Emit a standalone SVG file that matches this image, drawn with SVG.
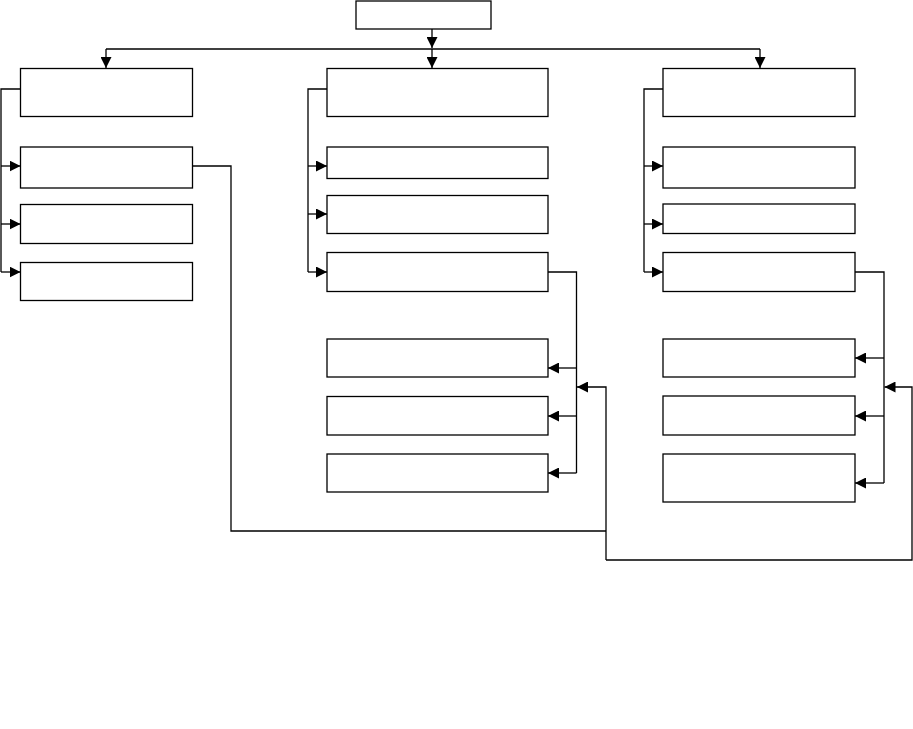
<svg xmlns="http://www.w3.org/2000/svg" width="913" height="729" viewBox="0 0 913 729">
<style>
.box{fill:#fff;stroke:#000;stroke-width:1.3}
.ln{fill:none;stroke:#000;stroke-width:1.3}
</style>
<defs>
<marker id="ah" markerUnits="userSpaceOnUse" markerWidth="11" markerHeight="11" refX="10" refY="5" orient="auto" viewBox="0 0 10 10">
<path d="M0,0 L10,5 L0,10 z" fill="#000"/>
</marker>
</defs>
<rect x="0" y="0" width="913" height="729" fill="#fff"/>
<g id="top"><rect class="box" x="356" y="1" width="135" height="28"/></g>
<g id="L1"><rect class="box" x="20.5" y="68.5" width="172" height="48"/></g>
<g id="L2"><rect class="box" x="20.5" y="147" width="172" height="41"/></g>
<g id="L3"><rect class="box" x="20.5" y="204.5" width="172" height="39"/></g>
<g id="L4"><rect class="box" x="20.5" y="262.5" width="172" height="38"/></g>
<g id="M1"><rect class="box" x="327" y="68.5" width="221" height="48"/></g>
<g id="M2"><rect class="box" x="327" y="147" width="221" height="31.5"/></g>
<g id="M3"><rect class="box" x="327" y="195.5" width="221" height="38"/></g>
<g id="M4"><rect class="box" x="327" y="252.5" width="221" height="39"/></g>
<g id="M5"><rect class="box" x="327" y="339" width="221" height="38"/></g>
<g id="M6"><rect class="box" x="327" y="396.5" width="221" height="38.5"/></g>
<g id="M7"><rect class="box" x="327" y="454" width="221" height="38"/></g>
<g id="R1"><rect class="box" x="663" y="68.5" width="192" height="48"/></g>
<g id="R2"><rect class="box" x="663" y="147" width="192" height="41"/></g>
<g id="R3"><rect class="box" x="663" y="204" width="192" height="29.5"/></g>
<g id="R4"><rect class="box" x="663" y="252.5" width="192" height="39"/></g>
<g id="R5"><rect class="box" x="663" y="339" width="192" height="38"/></g>
<g id="R6"><rect class="box" x="663" y="396" width="192" height="39"/></g>
<g id="R7"><rect class="box" x="663" y="454" width="192" height="48"/></g>
<g id="connectors">
<path class="ln" d="M432,29 V48" marker-end="url(#ah)"/>
<path class="ln" d="M106,49 H760"/>
<path class="ln" d="M432,49 V68" marker-end="url(#ah)"/>
<path class="ln" d="M106,49 V68" marker-end="url(#ah)"/>
<path class="ln" d="M760,49 V68" marker-end="url(#ah)"/>
<path class="ln" d="M20.5,89 H1 V272"/>
<path class="ln" d="M1,166 H20.5" marker-end="url(#ah)"/>
<path class="ln" d="M1,224 H20.5" marker-end="url(#ah)"/>
<path class="ln" d="M1,272 H20.5" marker-end="url(#ah)"/>
<path class="ln" d="M327,89 H308 V272"/>
<path class="ln" d="M308,166 H327" marker-end="url(#ah)"/>
<path class="ln" d="M308,214 H327" marker-end="url(#ah)"/>
<path class="ln" d="M308,272 H327" marker-end="url(#ah)"/>
<path class="ln" d="M663,89 H644 V272"/>
<path class="ln" d="M644,166 H663" marker-end="url(#ah)"/>
<path class="ln" d="M644,224 H663" marker-end="url(#ah)"/>
<path class="ln" d="M644,272 H663" marker-end="url(#ah)"/>
<path class="ln" d="M548,272 H576.5 V473"/>
<path class="ln" d="M576.5,368 H548" marker-end="url(#ah)"/>
<path class="ln" d="M576.5,416 H548" marker-end="url(#ah)"/>
<path class="ln" d="M576.5,473 H548" marker-end="url(#ah)"/>
<path class="ln" d="M855,272 H884 V483"/>
<path class="ln" d="M884,358 H855" marker-end="url(#ah)"/>
<path class="ln" d="M884,416 H855" marker-end="url(#ah)"/>
<path class="ln" d="M884,483 H855" marker-end="url(#ah)"/>
<path class="ln" d="M192.5,166 H231 V531 H606"/>
<path class="ln" d="M606,560 V387 H577" marker-end="url(#ah)"/>
<path class="ln" d="M606,560 H912 V387 H884.5" marker-end="url(#ah)"/>
</g>
</svg>
